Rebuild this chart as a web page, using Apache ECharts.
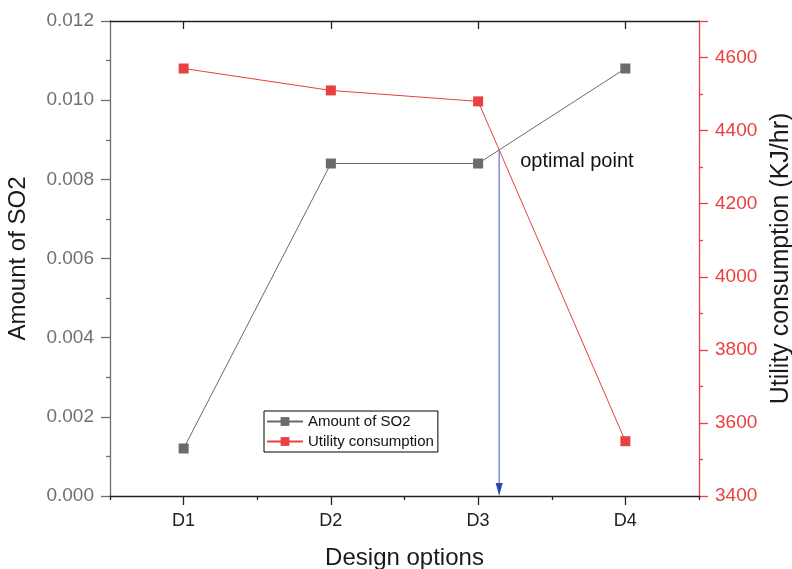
<!DOCTYPE html>
<html>
<head>
<meta charset="utf-8">
<script src="https://cdn.jsdelivr.net/npm/echarts@6/dist/echarts.min.js"></script>
<style>
html,body{margin:0;padding:0;background:#fff;}
#chart{width:792px;height:569px;}
</style>
</head>
<body>
<div id="chart"></div>
<script>
const categories = ['D1', 'D2', 'D3', 'D4'];
const so2Values = [0.0012, 0.0084, 0.0084, 0.0108];
const utilityValues = [4570, 4510, 4480, 3550];
const seriesNames = ['Amount of SO2', 'Utility consumption'];
const leftAxisRange = [0, 0.012, 0.002];
const rightAxisRange = [3400, 4700, 200];
const annotationText = 'optimal point';

const FONT = 'Liberation Sans, Arial, sans-serif';
const GREY = '#6b6b6b';
const RED = '#e8413f';

const chart = echarts.init(document.getElementById('chart'));

const option = {
  animation: false,
  backgroundColor: '#fff',
  textStyle: { fontFamily: FONT },
  grid: { left: 110, right: 93, top: 21, bottom: 73, containLabel: false, outerBoundsMode: 'none' },
  legend: {
    orient: 'vertical',
    left: 264, top: 411,
    data: seriesNames,
    borderColor: '#000', borderWidth: 1,
    padding: [3, 4, 3, 2],
    itemGap: 5,
    itemWidth: 36, itemHeight: 11,
    textStyle: { fontFamily: FONT, fontSize: 15, color: '#111', padding: [0, 0, 0, 0] }
  },
  xAxis: [
    {
      type: 'category', position: 'bottom', data: categories, boundaryGap: true,
      name: 'Design options', nameLocation: 'middle', nameGap: 50,
      nameTextStyle: { fontFamily: FONT, fontSize: 24, color: '#1a1a1a' },
      axisLine: { show: true, lineStyle: { color: '#222', width: 1.3 } },
      axisTick: { show: true, alignWithLabel: true, inside: false, length: 9, lineStyle: { color: '#222', width: 1.3 } },
      axisLabel: { fontFamily: FONT, fontSize: 18, color: '#222', margin: 16 },
      splitLine: { show: false }
    },
    {
      type: 'category', position: 'bottom', data: categories, boundaryGap: true,
      axisLine: { show: false },
      axisTick: { show: true, alignWithLabel: false, inside: false, length: 4, lineStyle: { color: '#222', width: 1.3 } },
      axisLabel: { show: false },
      splitLine: { show: false }
    },
    {
      type: 'category', position: 'top', data: categories, boundaryGap: true,
      axisLine: { show: true, lineStyle: { color: '#222', width: 1.3 } },
      axisTick: { show: true, alignWithLabel: true, inside: true, length: 8, lineStyle: { color: '#222', width: 1.3 } },
      axisLabel: { show: false },
      splitLine: { show: false }
    }
  ],
  yAxis: [
    {
      type: 'value', position: 'left',
      min: leftAxisRange[0], max: leftAxisRange[1], interval: leftAxisRange[2],
      name: 'Amount of SO2', nameLocation: 'middle', nameGap: 80, nameRotate: 90,
      nameTextStyle: { fontFamily: FONT, fontSize: 24, color: '#1a1a1a' },
      axisLine: { show: true, lineStyle: { color: '#6e6e6e', width: 1.3 } },
      axisTick: { show: true, inside: false, length: 9, lineStyle: { color: '#6e6e6e', width: 1.3 } },
      minorTick: { show: true, splitNumber: 2, length: 4, lineStyle: { color: '#6e6e6e', width: 1.3 } },
      axisLabel: { fontFamily: FONT, fontSize: 19, color: '#707070', margin: 16,
        formatter: v => v.toFixed(3) },
      splitLine: { show: false }, minorSplitLine: { show: false }
    },
    {
      type: 'value', position: 'right',
      min: rightAxisRange[0], max: rightAxisRange[1], interval: rightAxisRange[2],
      name: 'Utility consumption (KJ/hr)', nameLocation: 'middle', nameGap: 69, nameRotate: 90,
      nameTextStyle: { fontFamily: FONT, fontSize: 25, color: '#1a1a1a' },
      axisLine: { show: true, lineStyle: { color: RED, width: 1.3 } },
      axisTick: { show: true, inside: false, length: 9, lineStyle: { color: RED, width: 1.3 } },
      minorTick: { show: true, splitNumber: 2, length: 4, lineStyle: { color: RED, width: 1.3 } },
      axisLabel: { fontFamily: FONT, fontSize: 19, color: RED, margin: 16, showMaxLabel: false,
        formatter: v => String(v) },
      splitLine: { show: false }, minorSplitLine: { show: false }
    }
  ],
  series: [
    {
      name: seriesNames[0], type: 'line', xAxisIndex: 0, yAxisIndex: 0,
      data: so2Values,
      symbol: 'rect', symbolSize: 10,
      itemStyle: { color: GREY },
      lineStyle: { color: GREY, width: 1 },
      z: 3
    },
    {
      name: seriesNames[1], type: 'line', xAxisIndex: 0, yAxisIndex: 1,
      data: utilityValues,
      symbol: 'rect', symbolSize: 10,
      itemStyle: { color: RED },
      lineStyle: { color: RED, width: 1 },
      z: 3
    }
  ]
};
chart.setOption(option);

// Compute intersection of the two lines between D3 and D4 in pixel space
const a1 = chart.convertToPixel({ xAxisIndex: 0, yAxisIndex: 0 }, [categories[2], so2Values[2]]);
const a2 = chart.convertToPixel({ xAxisIndex: 0, yAxisIndex: 0 }, [categories[3], so2Values[3]]);
const b1 = chart.convertToPixel({ xAxisIndex: 0, yAxisIndex: 1 }, [categories[2], utilityValues[2]]);
const b2 = chart.convertToPixel({ xAxisIndex: 0, yAxisIndex: 1 }, [categories[3], utilityValues[3]]);
const t = (b1[1] - a1[1]) / ((a2[1] - a1[1]) - (b2[1] - b1[1]));
const ix = a1[0] + t * (a2[0] - a1[0]);
const iy = a1[1] + t * (a2[1] - a1[1]);
const baseY = chart.convertToPixel({ yAxisIndex: 0 }, leftAxisRange[0]);
const headH = 13, headW = 7;

chart.setOption({
  graphic: [
    {
      type: 'line', z: 10,
      shape: { x1: ix, y1: iy, x2: ix, y2: baseY - headH + 1 },
      style: { stroke: '#6a7ed6', lineWidth: 1.3 }
    },
    {
      type: 'polygon', z: 10,
      shape: { points: [[ix - headW / 2, baseY - headH], [ix + headW / 2, baseY - headH], [ix, baseY]] },
      style: { fill: '#2f45b5' }
    },
    {
      type: 'text', z: 10,
      x: ix + 21, y: iy + 12,
      style: { text: annotationText, fontFamily: FONT, fontSize: 20, fill: '#111', verticalAlign: 'middle', align: 'left' }
    }
  ]
});
</script>
</body>
</html>
